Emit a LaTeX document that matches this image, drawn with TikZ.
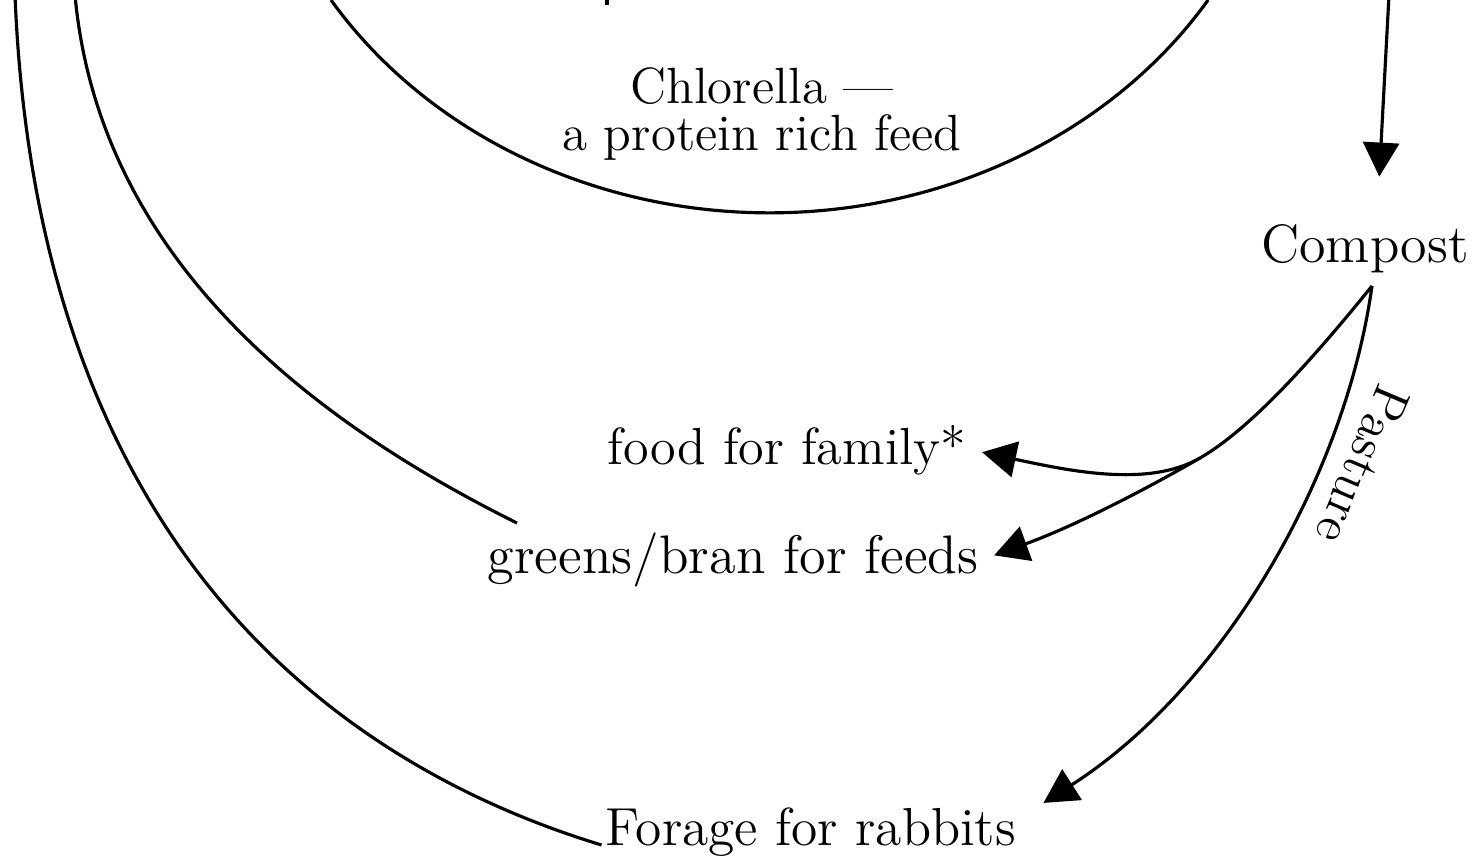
\documentclass[tikz,border=0pt]{standalone}
\usepackage{fontspec}
\usepackage{tikz}
\usetikzlibrary{arrows.meta, positioning, calc}

\begin{document}
\begin{tikzpicture}[
        lbl/.style={
            font=\fontsize{14.5}{13.5}\selectfont,
            inner sep=1pt,
            align=center
        },
        wide/.style={scale=#1, transform shape},
        line/.style={line width=0.9pt},
        arrow/.style={-{Triangle[length=3.4mm, width=3.6mm]}, line width=0.9pt}
    ]
        \useasboundingbox (0,0) rectangle (14.77,-8.56);

        \node[lbl] (chlorella) at (7.62,-1.14) {Chlorella ---\\ a protein rich feed};

        \node[lbl, wide=1.06, anchor=base] (compost) at (13.65,-2.62) {Compost};

        \node[lbl, wide=1.025, anchor=base] (food) at (7.87,-4.64) {food for family*};

        \node[lbl, wide=1.065, anchor=base] (greens) at (7.33,-5.73) {greens/bran for feeds};

        \node[lbl, wide=1.05, anchor=base] (forage) at (8.11,-8.45) {Forage for rabbits};

        \node[lbl, rotate=-113] (pasture) at (13.63,-4.65) {Pasture};

        % loose ends running off the top edge
        \coordinate (outTop) at (0.15,0.05);
        \coordinate (midTop) at (0.75,0.05);
        \coordinate (inL) at (3.31,0);
        \coordinate (inTop) at (13.89,0.05);
        \coordinate (tick) at (6.07,0.05);
        \coordinate (midEnd) at (5.17,-5.23);
        \coordinate (split) at ([xshift=0.7mm, yshift=-0.9mm]compost.south);
        \coordinate (fork) at (12.0,-4.58);

        \draw[line] (inL) arc[start angle=212.5, end angle=327.5, x radius=5.2, y radius=4.6];
        \draw[line] (outTop) .. controls (0.35,-5.0) and (2.9,-7.5) .. (forage.base west);
        \draw[line] (midTop) .. controls (1.0,-2.7) and (3.3,-4.3) .. (midEnd);
        \draw[line] (tick) -- ++(0,-0.1);

        \draw[arrow, shorten >=4.3mm] (inTop) -- ([xshift=1.2mm]compost.north);
        \draw[arrow, shorten >=1.2mm] (split) .. controls +(231:0.9) and +(30:0.6) .. (fork)
            .. controls +(210:0.6) and +(-12:1.0) .. (food.east);
        \draw[arrow, shorten >=1.2mm] (fork) .. controls +(210:0.6) and +(20:1.0) .. (greens.east);
        \draw[arrow] (split) .. controls (13.45,-4.8) and (12.2,-6.9) .. ([xshift=2.3mm]forage.north east);

    \end{tikzpicture}
\end{document}
